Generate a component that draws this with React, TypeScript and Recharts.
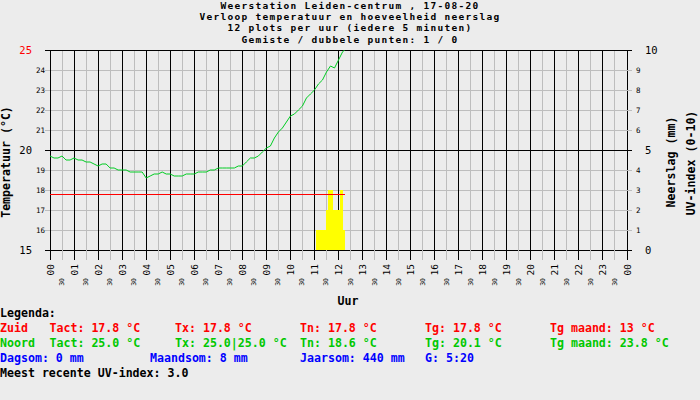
import React from "react";
import { ComposedChart, Line, Area, XAxis, YAxis, CartesianGrid } from "recharts";

// x axis: minutes since midnight, labelled per hour
const hourLabels = [
  "00", "01", "02", "03", "04", "05", "06", "07", "08", "09", "10", "11",
  "12", "13", "14", "15", "16", "17", "18", "19", "20", "21", "22", "23", "00",
];
const halfHourLabel = "30";

const tempTicks = [15, 16, 17, 18, 19, 20, 21, 22, 23, 24, 25];
const majorTempTicks = [15, 20, 25];
const uvTicks = [0, 1, 2, 3, 4, 5, 6, 7, 8, 9, 10];
const majorUvTicks = [0, 5, 10];

// Noord sensor, temperature (°C)
const noordMinutes = [
  0, 10, 20, 30, 40, 50, 60, 70, 80, 90, 100, 110, 120, 130, 140, 150, 160, 170,
  180, 190, 200, 210, 220, 230, 240, 250, 260, 270, 280, 290, 300, 310, 320, 330,
  340, 350, 360, 370, 380, 390, 400, 410, 420, 430, 440, 450, 460, 470, 480, 490,
  500, 510, 520, 530, 540, 550, 560, 570, 580, 590, 600, 610, 620, 630, 640, 650,
  660, 670, 680, 690, 700, 710, 720, 730, 735,
];
const noordTemp = [
  19.7, 19.6, 19.6, 19.7, 19.5, 19.5, 19.6, 19.5, 19.5, 19.4, 19.4, 19.3, 19.2, 19.3,
  19.3, 19.1, 19.1, 19.0, 19.0, 19.0, 18.9, 18.9, 18.9, 18.9, 18.6, 18.7, 18.8, 18.8,
  18.9, 18.8, 18.8, 18.7, 18.7, 18.7, 18.8, 18.8, 18.8, 18.9, 18.9, 18.9, 19.0, 19.0,
  19.1, 19.1, 19.1, 19.1, 19.1, 19.2, 19.2, 19.4, 19.6, 19.6, 19.7, 19.9, 20.1, 20.2,
  20.6, 20.9, 21.1, 21.4, 21.7, 21.8, 22.0, 22.2, 22.6, 22.8, 23.0, 23.3, 23.5, 23.9,
  24.2, 24.1, 24.5, 24.9, 25.0,
];

// Zuid sensor, temperature (°C)
const zuidMinutes = [0, 735];
const zuidTemp = [17.8, 17.8];

// UV-index
const uvMinutes = [664, 689, 694, 706, 724, 731, 736];
const uvIndex = [1, 2, 3, 2, 3, 1, 0];

const titleLines = [
  "Weerstation Leiden-centrum , 17-08-20",
  "Verloop temperatuur en hoeveelheid neerslag",
  "12 plots per uur (iedere 5 minuten)",
  "Gemiste / dubbele punten: 1 / 0",
];

const legendRows = [
  { color: "#000000", cells: [[0, "Legenda:"]] },
  {
    color: "#ff0000",
    cells: [
      [0, "Zuid"], [49.5, "Tact: 17.8 °C"], [175, "Tx: 17.8 °C"],
      [300, "Tn: 17.8 °C"], [425, "Tg: 17.8 °C"], [550, "Tg maand: 13 °C"],
    ],
  },
  {
    color: "#00c800",
    cells: [
      [0, "Noord"], [49.5, "Tact: 25.0 °C"], [175, "Tx: 25.0|25.0 °C"],
      [300, "Tn: 18.6 °C"], [425, "Tg: 20.1 °C"], [550, "Tg maand: 23.8 °C"],
    ],
  },
  {
    color: "#0000ff",
    cells: [
      [0, "Dagsom: 0 mm"], [150, "Maandsom: 8 mm"],
      [300, "Jaarsom: 440 mm"], [425, "G: 5:20"],
    ],
  },
  { color: "#000000", cells: [[0, "Meest recente UV-index: 3.0"]] },
];

const noordData = noordMinutes.map((t, i) => ({ t, temp: noordTemp[i] }));
const zuidData = zuidMinutes.map((t, i) => ({ t, temp: zuidTemp[i] }));
const uvData = uvMinutes.map((t, i) => ({ t, uv: uvIndex[i] }));

const hourMinutes = hourLabels.map((_, i) => i * 60);
const halfMinutes = hourLabels.slice(0, -1).map((_, i) => i * 60 + 30);
const xTicks = [...hourMinutes, ...halfMinutes].sort((a, b) => a - b);
const minorTempTicks = tempTicks.filter((v) => !majorTempTicks.includes(v));

const BG = "#ececec";
const GRID = "#bdbdbd";
const MONO = "'DejaVu Sans Mono', 'Liberation Mono', monospace";

const XTick = (props: any) => {
  const { x, y, payload } = props;
  const m = payload.value;
  const isHour = m % 60 === 0;
  const ty = isHour ? y + 14 : y + 28;
  return (
    <g className="tk">
      <line x1={x} x2={x} y1={y} y2={y + 10} stroke={isHour ? "#000" : GRID} />
      <text
        x={x}
        y={ty}
        transform={`rotate(-90 ${x} ${ty})`}
        textAnchor="end"
        dominantBaseline="central"
        fontFamily={MONO}
        fontSize={isHour ? 9.5 : 6.5}
        fill="#000"
      >
        {isHour ? hourLabels[m / 60] : halfHourLabel}
      </text>
    </g>
  );
};

const LeftTick = (props: any) => {
  const { x, y, payload } = props;
  const v = payload.value;
  const major = majorTempTicks.includes(v);
  return (
    <g className="tk">
      <line x1={x - 5} x2={x} y1={y} y2={y} stroke={major ? "#000" : GRID} />
      <text
        x={major ? x - 18 : x - 5}
        y={y}
        textAnchor="end"
        dominantBaseline="central"
        fontFamily={MONO}
        fontSize={major ? 10.5 : 7.5}
        fill={v === 25 ? "#ff0000" : "#000"}
      >
        {v}
      </text>
    </g>
  );
};

const RightTick = (props: any) => {
  const { x, y, payload } = props;
  const v = payload.value;
  const major = majorUvTicks.includes(v);
  return (
    <g className="tk">
      <line x1={x} x2={x + 5} y1={y} y2={y} stroke={major ? "#000" : GRID} />
      <text
        x={major ? x + 18 : x + 9}
        y={y}
        textAnchor="start"
        dominantBaseline="central"
        fontFamily={MONO}
        fontSize={major ? 10.5 : 7.5}
        fill="#000"
      >
        {v}
      </text>
    </g>
  );
};

const App = () => {
  return (
    <div
      style={{
        position: "absolute",
        left: 0,
        top: 0,
        width: 700,
        height: 400,
        background: BG,
        overflow: "hidden",
      }}
    >
      <style>{`
        .recharts-cartesian-grid line, .tk line, .flat path { shape-rendering: crispEdges; }
      `}</style>
      <ComposedChart width={700} height={400} margin={{ top: 50, right: 0, bottom: 0, left: 0 }}>
        <CartesianGrid
          yAxisId="temp"
          stroke={GRID}
          horizontalValues={minorTempTicks}
          verticalValues={halfMinutes}
        />
        <CartesianGrid
          yAxisId="temp"
          stroke="#000"
          horizontalValues={majorTempTicks}
          verticalValues={hourMinutes}
        />
        <XAxis
          dataKey="t"
          type="number"
          domain={[0, 1440]}
          ticks={xTicks}
          interval={0}
          height={150}
          axisLine={false}
          tickLine={false}
          tickSize={0}
          tickMargin={0}
          tick={XTick}
          allowDataOverflow
        />
        <YAxis
          yAxisId="temp"
          domain={[15, 25]}
          ticks={tempTicks}
          interval={0}
          width={50}
          axisLine={false}
          tickLine={false}
          tickSize={0}
          tickMargin={0}
          tick={LeftTick}
          allowDataOverflow
        />
        <YAxis
          yAxisId="uv"
          orientation="right"
          domain={[0, 10]}
          ticks={uvTicks}
          interval={0}
          width={73}
          axisLine={false}
          tickLine={false}
          tickSize={0}
          tickMargin={0}
          tick={RightTick}
          allowDataOverflow
        />
        <Area
          className="flat"
          data={uvData}
          yAxisId="uv"
          dataKey="uv"
          type="stepAfter"
          fill="#ffff00"
          fillOpacity={1}
          stroke="none"
          isAnimationActive={false}
        />
        <Line
          className="flat"
          data={zuidData}
          yAxisId="temp"
          dataKey="temp"
          type="linear"
          stroke="#ff0000"
          strokeWidth={1}
          dot={false}
          isAnimationActive={false}
        />
        <Line
          data={noordData}
          yAxisId="temp"
          dataKey="temp"
          type="linear"
          stroke="#00cc22"
          strokeWidth={1}
          dot={false}
          isAnimationActive={false}
        />
      </ComposedChart>
      <svg
        width={700}
        height={400}
        style={{ position: "absolute", left: 0, top: 0, pointerEvents: "none" }}
        fontFamily={MONO}
        fontWeight="bold"
        fontSize={11.6}
      >
        {titleLines.map((line, i) => (
          <text
            key={i}
            x={350}
            y={9.2 + i * 11.1}
            textAnchor="middle"
            fill="#000"
            fontSize={9.5}
            letterSpacing={1.28}
          >
            {line}
          </text>
        ))}
        <text x={10} y={162} transform="rotate(-90 10 162)" textAnchor="middle" fill="#000">
          Temperatuur (°C)
        </text>
        <text x={675} y={162} transform="rotate(-90 675 162)" textAnchor="middle" fill="#000">
          Neerslag (mm)
        </text>
        <text x={695} y={163} transform="rotate(-90 695 163)" textAnchor="middle" fill="#000">
          UV-index (0-10)
        </text>
        <text x={348} y={305} textAnchor="middle" fill="#000">
          Uur
        </text>
        {legendRows.map((row, r) =>
          row.cells.map(([cx, label], c) => (
            <text key={`${r}-${c}`} x={cx as number} y={316.5 + r * 15} fill={row.color}>
              {label}
            </text>
          ))
        )}
      </svg>
    </div>
  );
};

export default App;
